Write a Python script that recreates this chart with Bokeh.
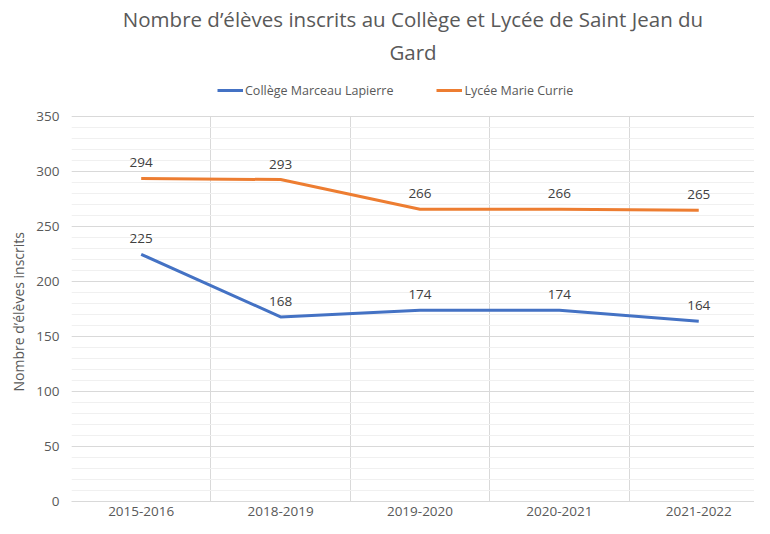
from bokeh.plotting import figure
from bokeh.models import (ColumnDataSource, FixedTicker, SingleIntervalTicker, Range1d,
                          Legend, LegendItem, Title, LabelSet)
from bokeh.core.properties import value
from bokeh.embed import file_html
from bokeh.resources import INLINE

years = ["2015-2016", "2018-2019", "2019-2020", "2020-2021", "2021-2022"]
college = [225, 168, 174, 174, 164]
lycee = [294, 293, 266, 266, 265]

FONT = "Open Sans"
TXT = "#595959"

xs = list(range(len(years)))
src_c = ColumnDataSource(dict(x=xs, y=college, t=[str(v) for v in college]))
src_l = ColumnDataSource(dict(x=xs, y=lycee, t=[str(v) for v in lycee]))

p = figure(width=754, height=518, output_backend="svg", toolbar_location=None,
           x_range=Range1d(-0.5, 4.40), y_range=Range1d(0, 395),
           min_border_left=10, min_border_right=0, min_border_bottom=10, min_border_top=5)
p.title = None
p.outline_line_color = None
p.background_fill_color = "white"
p.border_fill_color = "white"

lc = p.line("x", "y", source=src_c, line_color="#4472C4", line_width=3)
ll = p.line("x", "y", source=src_l, line_color="#ED7D31", line_width=3)

for src in (src_c, src_l):
    p.add_layout(LabelSet(x="x", y="y", text="t", source=src, y_offset=11,
                          text_align="center", text_baseline="bottom",
                          text_font=value(FONT), text_font_size="13.5px", text_color="#404040"))

# axes
p.xaxis.ticker = FixedTicker(ticks=xs)
p.xaxis.major_label_overrides = {i: y for i, y in enumerate(years)}
p.xaxis.major_tick_line_color = None
p.xaxis.minor_tick_line_color = None
p.xaxis.major_tick_out = 0
p.xaxis.major_tick_in = 0
p.xaxis.minor_tick_out = 0
p.xaxis.axis_line_color = "#d9d9d9"
p.xaxis.major_label_text_font = FONT
p.xaxis.major_label_text_font_size = "13.5px"
p.xaxis.major_label_text_color = TXT
p.xaxis.major_label_standoff = 5

p.yaxis.ticker = SingleIntervalTicker(interval=50, num_minor_ticks=5)
p.yaxis.bounds = (0, 350)
p.yaxis.axis_line_color = None
p.yaxis.major_tick_line_color = None
p.yaxis.minor_tick_line_color = None
p.yaxis.major_tick_out = 0
p.yaxis.minor_tick_out = 0
p.yaxis.major_label_text_font = FONT
p.yaxis.major_label_text_font_size = "13.5px"
p.yaxis.major_label_text_color = TXT
p.yaxis.major_label_standoff = 12

p.add_layout(Title(text="Nombre d\u2019\u00e9l\u00e8ves inscrits", align="left",
                   text_font=FONT, text_font_size="14px", text_font_style="normal",
                   text_color=TXT, standoff=12, offset=110), "left")

# grids
p.xgrid.ticker = FixedTicker(ticks=[0.5, 1.5, 2.5, 3.5])
p.xgrid.cross_bounds = (0, 350)
p.xgrid.grid_line_color = "#d9d9d9"
p.ygrid.bounds = (0, 350)
p.ygrid.grid_line_color = "#d9d9d9"
p.ygrid.minor_grid_line_color = "#f0f0f0"

# title on two centred lines
p.add_layout(Title(text="Gard", align="center", text_font=FONT, text_font_size="20.5px",
                   text_font_style="normal", text_color=TXT, standoff=3), "above")
p.add_layout(Title(text="Nombre d\u2019\u00e9l\u00e8ves inscrits au Coll\u00e8ge et Lyc\u00e9e de Saint Jean du",
                   align="center", text_font=FONT, text_font_size="20.5px",
                   text_font_style="normal", text_color=TXT, standoff=4), "above")

legend = Legend(items=[LegendItem(label="Coll\u00e8ge Marceau Lapierre", renderers=[lc]),
                       LegendItem(label="Lyc\u00e9e Marie Currie", renderers=[ll])],
                orientation="horizontal", location=(146, 401),
                label_text_font=FONT, label_text_font_size="12.5px", label_text_color=TXT,
                border_line_color=None, background_fill_alpha=0,
                glyph_width=26, spacing=43, padding=2, margin=0, label_standoff=2)
p.add_layout(legend, "center")

open("out.html", "w").write(file_html(p, INLINE))
